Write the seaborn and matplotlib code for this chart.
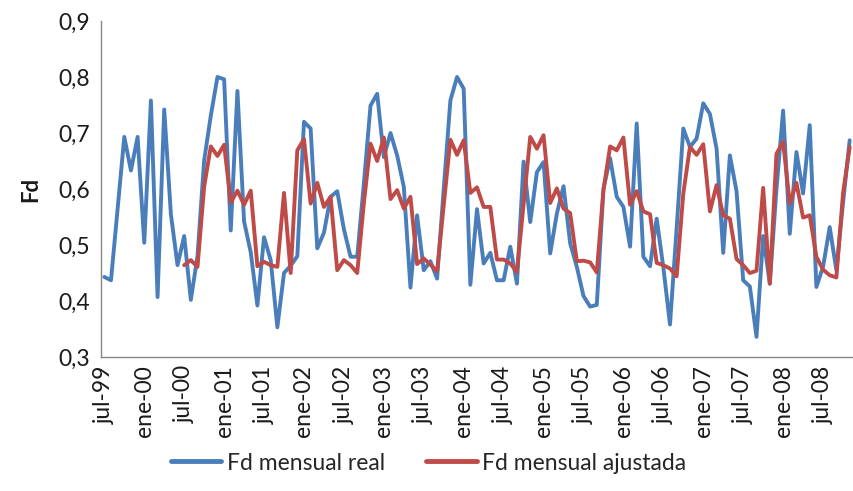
import numpy as np
import pandas as pd
import matplotlib
matplotlib.use("Agg")
import matplotlib.pyplot as plt
import seaborn as sns

months = ["ene", "feb", "mar", "abr", "may", "jun", "jul", "ago", "sep", "oct", "nov", "dic"]
# monthly categories jul-99 .. nov-08
periods = []
y, m = 1999, 6
while (y, m) <= (2008, 10):
    periods.append(f"{months[m]}-{y % 100:02d}")
    m += 1
    if m == 12:
        m, y = 0, y + 1

fd_real = [
    0.443, 0.437, 0.565, 0.693, 0.633, 0.693, 0.504, 0.758, 0.407, 0.742,
    0.555, 0.464, 0.516, 0.402, 0.480, 0.651, 0.731, 0.800, 0.796, 0.526,
    0.775, 0.542, 0.487, 0.392, 0.514, 0.473, 0.353, 0.450, 0.463, 0.480,
    0.720, 0.708, 0.494, 0.522, 0.586, 0.596, 0.528, 0.479, 0.479, 0.610,
    0.749, 0.770, 0.657, 0.700, 0.660, 0.604, 0.424, 0.553, 0.455, 0.471,
    0.440, 0.600, 0.758, 0.800, 0.779, 0.429, 0.564, 0.467, 0.486, 0.437,
    0.437, 0.497, 0.431, 0.649, 0.541, 0.630, 0.648, 0.485, 0.556, 0.605,
    0.503, 0.461, 0.409, 0.390, 0.393, 0.600, 0.655, 0.586, 0.568, 0.497,
    0.717, 0.479, 0.462, 0.547, 0.460, 0.358, 0.530, 0.708, 0.675, 0.690,
    0.753, 0.734, 0.672, 0.486, 0.660, 0.596, 0.437, 0.426, 0.336, 0.516,
    0.431, 0.600, 0.740, 0.520, 0.666, 0.592, 0.714, 0.425, 0.461, 0.532,
    0.455, 0.575, 0.687,
]

fd_ajustada = [np.nan] * 12 + [
    0.464, 0.473, 0.461, 0.604, 0.676, 0.659, 0.679, 0.576, 0.597, 0.572,
    0.597, 0.462, 0.470, 0.464, 0.461, 0.593, 0.450, 0.669, 0.689, 0.574,
    0.611, 0.568, 0.586, 0.455, 0.473, 0.464, 0.450, 0.575, 0.681, 0.650,
    0.692, 0.582, 0.598, 0.565, 0.586, 0.466, 0.476, 0.465, 0.453, 0.571,
    0.688, 0.661, 0.687, 0.593, 0.603, 0.568, 0.568, 0.474, 0.474, 0.467,
    0.452, 0.573, 0.693, 0.672, 0.696, 0.575, 0.601, 0.565, 0.557, 0.471,
    0.472, 0.469, 0.451, 0.598, 0.676, 0.669, 0.692, 0.572, 0.596, 0.560,
    0.555, 0.468, 0.464, 0.458, 0.444, 0.592, 0.675, 0.661, 0.680, 0.560,
    0.607, 0.553, 0.547, 0.475, 0.464, 0.450, 0.454, 0.602, 0.431, 0.663,
    0.684, 0.574, 0.611, 0.549, 0.553, 0.479, 0.456, 0.446, 0.442, 0.592,
    0.675,
]

series_names = ["Fd mensual real", "Fd mensual ajustada"]
colors = ["#4A7EBB", "#BE4B48"]

idx = np.arange(len(periods))
df = pd.DataFrame({
    "idx": np.concatenate([idx, idx]),
    "Fd": np.concatenate([fd_real, fd_ajustada]),
    "serie": [series_names[0]] * len(idx) + [series_names[1]] * len(idx),
})

sns.set_style("white")
plt.rcParams["font.family"] = ["Lato", "DejaVu Sans"]
FS = 16.5
TXT = "#1a1a1a"

fig = plt.figure(figsize=(8.54, 4.91), dpi=100)
ax = fig.add_axes([101 / 854, 1 - 357 / 491, 752 / 854, 336 / 491])

sns.lineplot(data=df, x="idx", y="Fd", hue="serie", palette=colors,
             linewidth=2.8, ax=ax, legend=True, sort=False)

ax.set_xlim(-0.5, len(periods) - 0.5)
ax.set_ylim(0.3, 0.9)
yt = np.round(np.arange(0.3, 0.91, 0.1), 1)
ax.set_yticks(yt)
ax.set_yticklabels([f"{v:.1f}".replace(".", ",") for v in yt], fontsize=FS, color=TXT)

# tick marks between categories every 6 months, labels on categories
ax.set_xticks(np.arange(-0.5, len(periods), 6))
ax.set_xticklabels([])
lab_pos = np.arange(0, len(periods), 6)
ax.set_xticks(lab_pos, minor=True)
ax.set_xticklabels([periods[i] for i in lab_pos], minor=True, rotation=90,
                   fontsize=FS, color=TXT)
ax.tick_params(axis="x", which="minor", length=0, pad=6)
ax.tick_params(axis="x", which="major", length=5, width=1, color="#868686", direction="out")
ax.tick_params(axis="y", length=5, width=1, color="#868686", direction="out", pad=3)

for s in ["top", "right"]:
    ax.spines[s].set_visible(False)
for s in ["left", "bottom"]:
    ax.spines[s].set_color("#868686")
    ax.spines[s].set_linewidth(1)

ax.set_xlabel("")
ax.set_ylabel("Fd", fontsize=16, fontweight="bold", color=TXT, labelpad=12)

handles, labels = ax.get_legend_handles_labels()
ax.legend_.remove()
fig.legend(handles, labels, loc="center", bbox_to_anchor=(0.502, 0.057), ncol=2,
           frameon=False, fontsize=FS, handlelength=2.2, columnspacing=1.8,
           handletextpad=0.25)
for line in fig.legends[0].get_lines():
    line.set_linewidth(3.5)

fig.savefig("out.png", dpi=100)
